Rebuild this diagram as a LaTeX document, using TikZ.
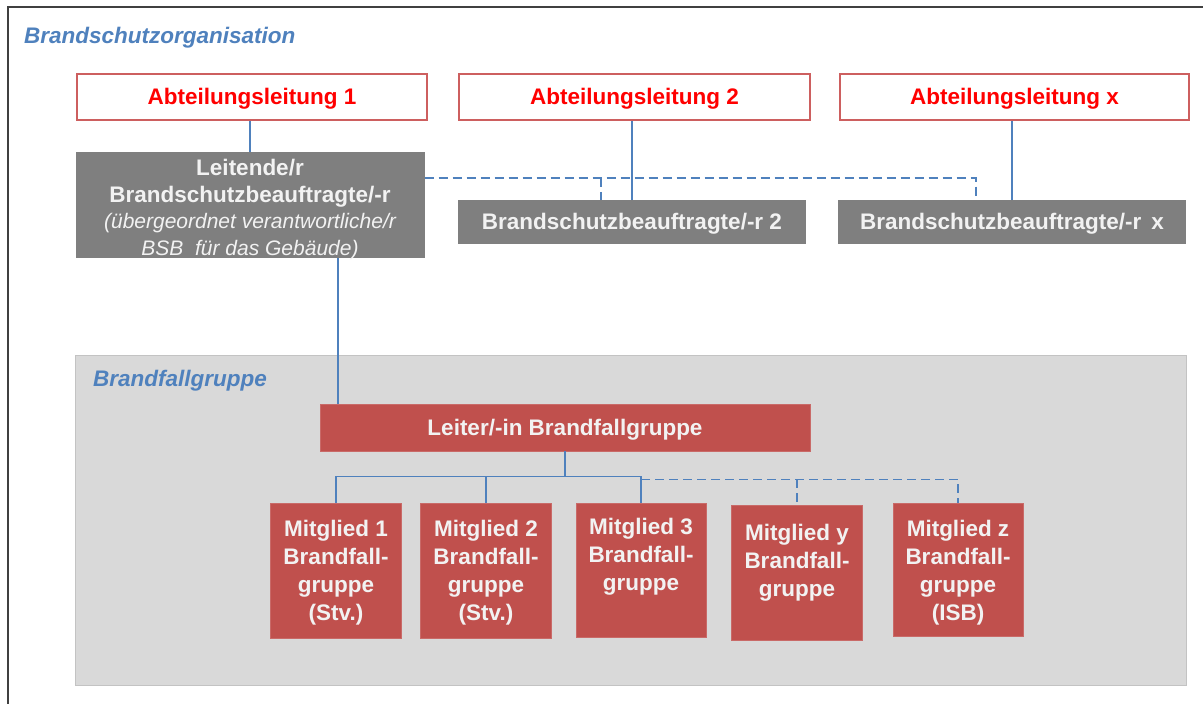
\documentclass[tikz,border=0pt]{standalone}
\usepackage{fontspec}
\setmainfont{Liberation Sans}
\usetikzlibrary{calc}
\definecolor{tblue}{RGB}{79,129,189}
\definecolor{lblue}{RGB}{79,129,189}
\definecolor{rtext}{RGB}{255,0,0}
\definecolor{rborder}{RGB}{205,95,95}
\definecolor{gbox}{RGB}{127,127,127}
\definecolor{grp}{RGB}{217,217,217}
\definecolor{rbox}{RGB}{192,80,77}
\definecolor{frame}{RGB}{64,64,64}
\definecolor{offwhite}{RGB}{242,242,242}
\tikzset{
  big/.style={font=\fontsize{22.5}{27}\selectfont\bfseries},
  lowered/.style={text height=18pt, text depth=2.5pt},
  abtbox/.style={draw=rborder, line width=1.5pt, fill=white, text=rtext, big, lowered, inner sep=0pt, minimum height=46pt},
  graybox/.style={fill=gbox, text=offwhite, big, inner sep=0pt, align=center},
  redbox/.style={fill=rbox, draw=rbox!85!white, line width=0.6pt, inner sep=0pt},
  memtext/.style={text=offwhite, align=center, inner sep=0pt, anchor=north, font=\fontsize{22.5}{28}\selectfont\bfseries},
  conn/.style={draw=lblue, line width=1.5pt},
  dconn/.style={draw=lblue, line width=1.5pt, dash pattern=on 9pt off 5pt},
  heading/.style={text=tblue, font=\fontsize{22.5}{27}\selectfont\bfseries\itshape, inner sep=0pt, anchor=west}
}
\begin{document}
\begin{tikzpicture}[x=1pt,y=-1pt]
\useasboundingbox (0,0) rectangle (1203,704);
\fill[white] (0,0) rectangle (1203,704);
% outer frame (only top and left visible)
\draw[frame, line width=2pt] (8,720) -- (8,7) -- (1220,7);
\node[heading] (title) at (24,38) {Brandschutzorganisation};

% department heads
\node[abtbox, minimum width=350pt] (a1) at (252,97) {Abteilungsleitung 1};
\node[abtbox, minimum width=351pt] (a2) at (634.5,97) {Abteilungsleitung 2};
\node[abtbox, minimum width=349pt] (ax) at (1014.5,97) {Abteilungsleitung x};

% fire safety officers
\node[graybox, minimum width=349pt, minimum height=106pt] (lb) at (250,205) {};
\node[text=offwhite, big, inner sep=0pt, align=center] (lbt) at ([yshift=-5pt]lb.center) {Leitende/r\\Brandschutzbeauftragte/-r\\[-1pt]
{\fontsize{21}{25}\selectfont\mdseries\itshape (übergeordnet verantwortliche/r}\\
{\fontsize{21}{25}\selectfont\mdseries\itshape BSB\ \ für das Gebäude)}};
\node[graybox, lowered, minimum width=348pt, minimum height=44pt] (b2) at (632,222) {Brandschutzbeauftragte/-r 2};
\node[graybox, lowered, minimum width=348pt, minimum height=44pt] (bx) at (1012,222) {Brandschutzbeauftragte/-r\, x};

% group area
\node[fill=grp, draw=grp!90!black, line width=0.4pt, minimum width=1111pt, minimum height=330pt, inner sep=0pt] (grp) at (630.5,520) {};
\node[heading] (gtitle) at (93,381) {Brandfallgruppe};

\node[redbox, lowered, minimum width=490pt, minimum height=47pt, text=offwhite, big] (lead) at (565,427.5) {Leiter/-in Brandfallgruppe};

\node[redbox, minimum width=131pt, minimum height=135pt] (m1) at (336,570.5) {};
\node[redbox, minimum width=131pt, minimum height=135pt] (m2) at (486,570.5) {};
\node[redbox, minimum width=130pt, minimum height=134pt] (m3) at (641,570) {};
\node[redbox, minimum width=131pt, minimum height=135pt] (my) at (797,572.5) {};
\node[redbox, minimum width=130pt, minimum height=133pt] (mz) at (958,569.5) {};

\node[memtext] (m1t) at ([yshift=-17pt]m1.north) {Mitglied 1\\Brandfall-\\gruppe\\(Stv.)};
\node[memtext] (m2t) at ([yshift=-17pt]m2.north) {Mitglied 2\\Brandfall-\\gruppe\\(Stv.)};
\node[memtext] (m3t) at ([yshift=-15pt]m3.north) {Mitglied 3\\Brandfall-\\gruppe};
\node[memtext] (myt) at ([yshift=-19pt]my.north) {Mitglied y\\Brandfall-\\gruppe};
\node[memtext] (mzt) at ([yshift=-17pt]mz.north) {Mitglied z\\Brandfall-\\gruppe\\(ISB)};

% connectors top
\draw[conn] (a1.south -| lb.north) -- (lb.north);
\draw[conn] (b2.north |- a2.south) -- (b2.north);
\draw[conn] (bx.north |- ax.south) -- (bx.north);
\coordinate (d0) at ($(lb.north east)!0.245!(lb.south east)$);
\draw[dconn] (d0) -| ([xshift=-36pt]bx.north);
\draw[dconn] ([xshift=-31pt]b2.north |- d0) -- ([xshift=-31pt]b2.north);

% connector to group leader
\draw[conn] ([xshift=18.3pt]lead.north west |- lb.south) -- ([xshift=18.3pt]lead.north west);

% bus to members
\coordinate (bus) at ($(lead.south)+(0,25)$);
\draw[conn] (lead.south) -- (bus);
\draw[conn] (m1.north) -- (m1.north |- bus) -- (m3.north |- bus) -- (m3.north);
\draw[conn] (m2.north |- bus) -- (m2.north);
\draw[dconn] ([yshift=-3pt]m3.north |- bus) -| (mz.north);
\draw[dconn] ([yshift=-3pt]my.north |- bus) -- (my.north);
\end{tikzpicture}
\end{document}
